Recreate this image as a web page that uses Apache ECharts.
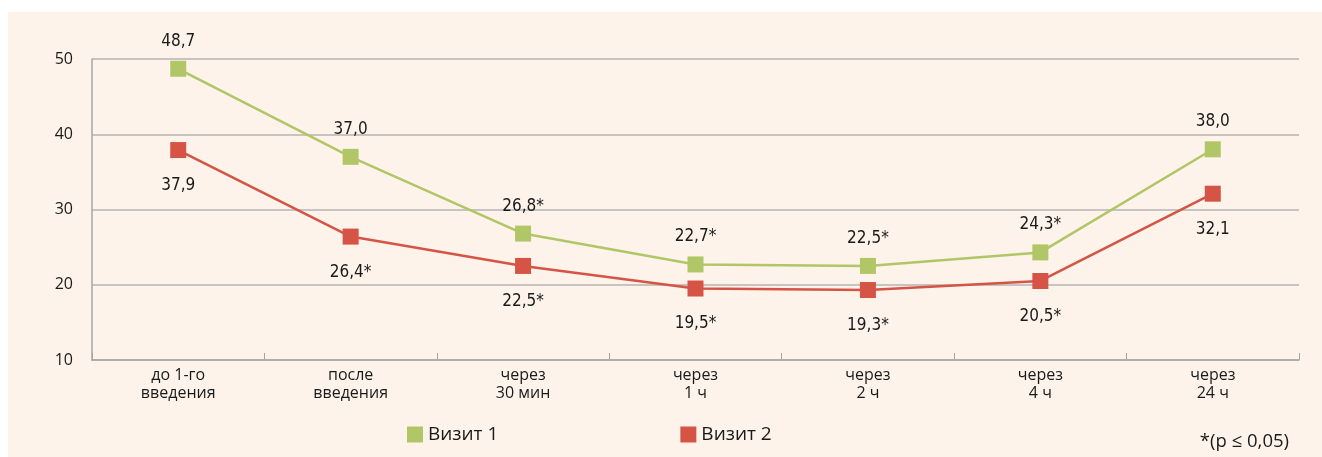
<!DOCTYPE html>
<html><head><meta charset="utf-8">
<script src="https://cdn.jsdelivr.net/npm/echarts@6/dist/echarts.min.js"></script>
<style>html,body{margin:0;padding:0;background:#fff}#wrap{position:absolute;left:8px;top:12px;width:1314px;height:445px;background:#fdf3ea}#c{position:absolute;left:0;top:0;width:1322px;height:457px}</style>
</head><body><div id="wrap"></div><div id="c"></div>
<script>
const categories = ['до 1-го\nвведения', 'после\nвведения', 'через\n30 мин', 'через\n1 ч', 'через\n2 ч', 'через\n4 ч', 'через\n24 ч'];
const visit1 = [48.7, 37.0, 26.8, 22.7, 22.5, 24.3, 38.0];
const visit2 = [37.9, 26.4, 22.5, 19.5, 19.3, 20.5, 32.1];
const visit1Labels = ['48,7', '37,0', '26,8*', '22,7*', '22,5*', '24,3*', '38,0'];
const visit2Labels = ['37,9', '26,4*', '22,5*', '19,5*', '19,3*', '20,5*', '32,1'];
const seriesNames = ['Визит 1', 'Визит 2'];
const footnote = '*(p ≤ 0,05)';

const FONT = "'DejaVu Sans Condensed', 'Open Sans', sans-serif";
const chart = echarts.init(document.getElementById('c'), null, {renderer: 'canvas'});
chart.setOption({
  backgroundColor: 'transparent',
  animation: false,
  grid: {left: 92, right: 23, top: 59, bottom: 97},
  legend: {
    data: seriesNames, bottom: 8, left: 402, itemGap: 182,
    itemWidth: 16, itemHeight: 16, icon: 'rect',
    textStyle: {fontFamily: "'Open Sans', sans-serif", fontSize: 19, color: '#1a1a1a'}
  },
  graphic: [{type: 'text', right: 33, bottom: 6, style: {text: footnote, font: "18.5px 'Open Sans', sans-serif", fill: '#1a1a1a'}}],
  xAxis: {
    type: 'category', data: categories, boundaryGap: true,
    axisLine: {lineStyle: {color: '#a6a6a6', width: 1.5}},
    axisTick: {show: true, inside: true, length: 7, lineStyle: {color: '#a6a6a6'}},
    axisLabel: {fontFamily: "'Open Sans', sans-serif", fontSize: 16, fontWeight: 500, color: '#1a1a1a', lineHeight: 18, margin: 6}
  },
  yAxis: {
    type: 'value', min: 10, max: 50, interval: 10,
    axisLine: {show: true, lineStyle: {color: '#a6a6a6', width: 1.5}},
    axisTick: {show: false},
    splitLine: {lineStyle: {color: '#b3b3b3', width: 1.5}},
    axisLabel: {fontFamily: "'Open Sans', sans-serif", fontSize: 16, color: '#1a1a1a', margin: 19}
  },
  series: [
    {name: seriesNames[0], type: 'line', data: visit1, symbol: 'rect', symbolSize: 16,
     itemStyle: {color: '#b1c666'}, lineStyle: {color: '#b1c666', width: 2.5},
     label: {show: true, position: 'top', distance: 11, fontFamily: FONT, fontSize: 17, color: '#1a1a1a',
       formatter: p => visit1Labels[p.dataIndex]}},
    {name: seriesNames[1], type: 'line', data: visit2, symbol: 'rect', symbolSize: 16,
     itemStyle: {color: '#d55445'}, lineStyle: {color: '#d55445', width: 2.5},
     label: {show: true, position: 'bottom', distance: 19, fontFamily: FONT, fontSize: 17, color: '#1a1a1a',
       formatter: p => visit2Labels[p.dataIndex]}}
  ]
});
</script></body></html>
